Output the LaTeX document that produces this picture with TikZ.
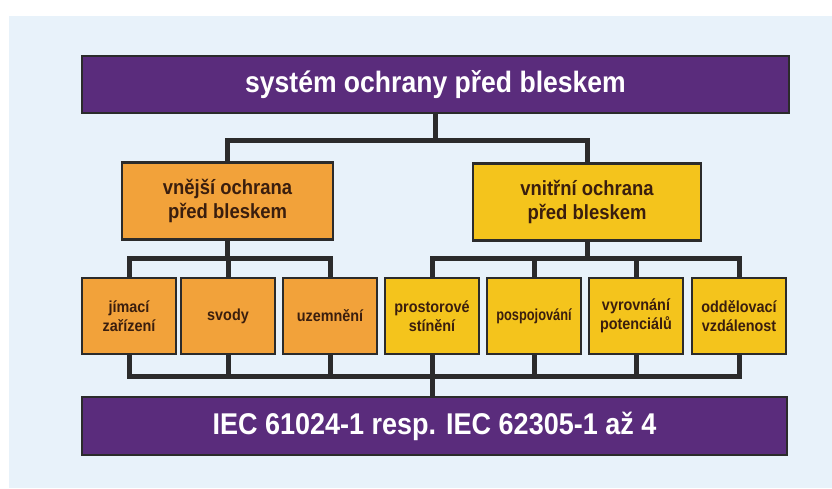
\documentclass[tikz,border=0pt]{standalone}
\usepackage{fontspec}
\setmainfont{Liberation Sans}
\newfontfamily\narrowfont[FakeStretch=0.9]{Liberation Sans}
\newfontfamily\narrowerfont[FakeStretch=0.8]{Liberation Sans}
\definecolor{bgblue}{HTML}{E8F2FA}
\definecolor{lilac}{HTML}{5A2C7C}
\definecolor{orng}{HTML}{F2A23A}
\definecolor{yllw}{HTML}{F4C41C}
\definecolor{edge}{HTML}{2B2B2B}
\definecolor{txtdark}{HTML}{3A1E0E}
\tikzset{
  box/.style={draw=edge, line width=2.6pt, inner sep=0pt, align=center, font=\narrowfont\bfseries},
  bar/.style={box, fill=lilac, text=white, minimum height=57pt},
  midbox/.style={box, text=txtdark, minimum height=77pt, font=\narrowfont\bfseries\fontsize{20.5}{23.5}\selectfont},
  leafbox/.style={box, text=txtdark, minimum width=94pt, minimum height=76pt, font=\narrowfont\bfseries\fontsize{16}{18.5}\selectfont},
  conn/.style={draw=edge, line width=5pt, line join=miter}
}
\begin{document}
\begin{tikzpicture}[x=1pt,y=-1pt]
\useasboundingbox (0,0) rectangle (832,488);
\fill[white] (0,0) rectangle (832,488);
\fill[bgblue] (9,16) rectangle (832,488);

\node[bar, minimum width=707pt, font=\narrowfont\bfseries\fontsize{29.5}{32}\selectfont] (top) at (435.5,84.5) {systém ochrany před bleskem};
\node[midbox, fill=orng, minimum width=211pt] (lm) at (227.5,201) {vnější ochrana\\před bleskem};
\node[midbox, fill=yllw, minimum width=228pt] (rm) at (587,202) {vnitřní ochrana\\před bleskem};

\node[leafbox, fill=orng] (b1) at (129,316) {jímací\\zařízení};
\node[leafbox, fill=orng] (b2) at (228,316) {svody};
\node[leafbox, fill=orng] (b3) at (330,316) {uzemnění};
\node[leafbox, fill=yllw] (b4) at (432,316) {prostorové\\stínění};
\node[leafbox, fill=yllw, font=\narrowerfont\bfseries\fontsize{16}{18.5}\selectfont] (b5) at (534,316) {pospojování};
\node[leafbox, fill=yllw] (b6) at (636,316) {vyrovnání\\potenciálů};
\node[leafbox, fill=yllw] (b7) at (739,316) {oddělovací\\vzdálenost};

\node[bar, minimum width=705pt, minimum height=58pt, font=\narrowfont\bfseries\fontsize{30}{33}\selectfont] (bot) at (434.5,426) {IEC 61024-1 resp. IEC 62305-1 až 4};

% level 1 connectors
\coordinate (j1) at (435.5,140);
\draw[conn] (top.south) -- (j1);
\draw[conn] (lm.north) |- (j1) -| (rm.north);

% left group
\coordinate (j2) at (227.5,258);
\draw[conn] (lm.south) -- (j2);
\draw[conn] (b1.north) |- (j2) -| (b3.north);
\draw[conn] (b2.north) -- (b2.north |- j2);

% right group
\coordinate (j3) at (587,258);
\draw[conn] (rm.south) -- (j3);
\draw[conn] (b4.north) |- (j3) -| (b7.north);
\draw[conn] (b5.north) -- (b5.north |- j3);
\draw[conn] (b6.north) -- (b6.north |- j3);

% bottom bus
\coordinate (j4) at (432,376);
\draw[conn] (b1.south) |- (j4) -| (b7.south);
\foreach \b in {b2,b3,b5,b6}{\draw[conn] (\b.south) -- (\b.south |- j4);}
\draw[conn] (b4.south) -- (bot.north -| b4.south);
\end{tikzpicture}
\end{document}
